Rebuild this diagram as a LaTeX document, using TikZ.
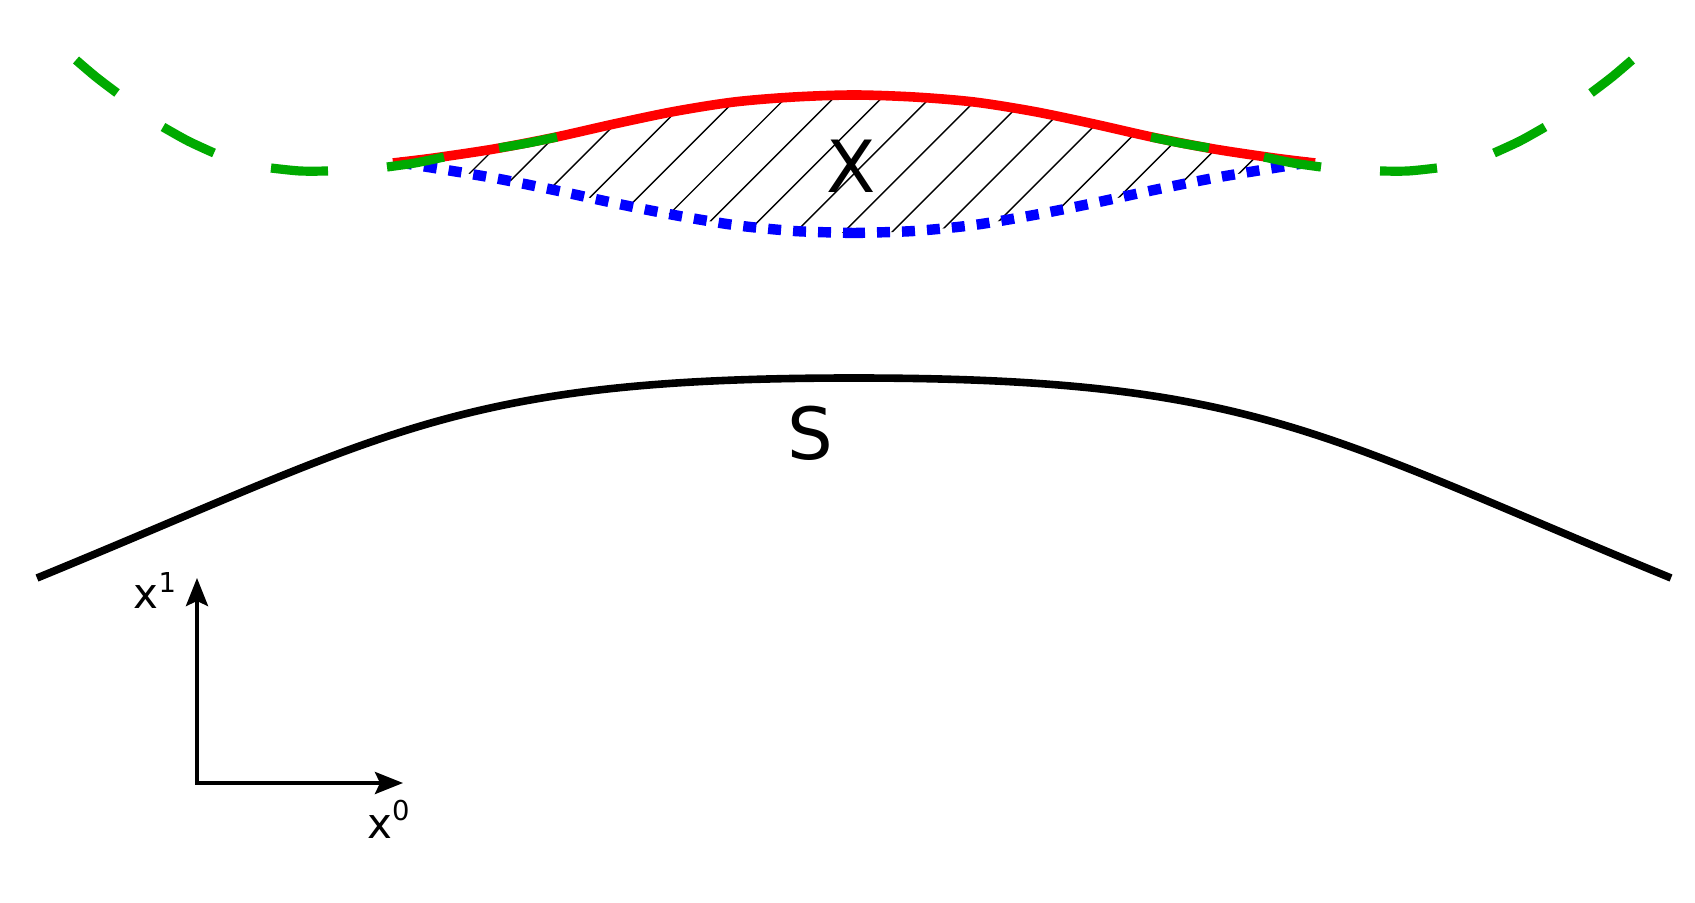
\documentclass[tikz,border=0pt]{standalone}
\usepackage{fontspec}
\newfontfamily\dv{DejaVu Sans}
\usetikzlibrary{arrows.meta}
\definecolor{gr}{RGB}{0,170,0}
\definecolor{rd}{RGB}{255,0,0}
\definecolor{bl}{RGB}{0,0,255}
\begin{document}
\begin{tikzpicture}[x=0.5pt,y=-0.5pt,
  greendash/.style={draw=gr,line width=4.6pt,line cap=butt},
  redline/.style={draw=rd,line width=4.8pt},
  blueline/.style={draw=bl,line width=5.2pt,dash pattern=on 6.5pt off 6pt,dash phase=1pt},
  sline/.style={draw=black,line width=3.8pt},
  hatch/.style={draw=black,line width=0.7pt},
  axis/.style={draw=black,line width=2pt,{Stealth[length=14pt,width=11pt,inset=2.5pt]}-{Stealth[length=14pt,width=11pt,inset=2.5pt]}},
  lbl/.style={inner sep=0pt}]
\useasboundingbox (0,0) rectangle (1695,903);

% hatching of region X
\begin{scope}
\clip plot[smooth] coordinates {(393,163) (434,158) (494,149) (554,137.5) (614,124) (674,111.5) (734,102) (794,97) (854,95) (914,97) (974,102) (1034,111.5) (1094,124) (1154,137.5) (1214,149) (1274,158) (1315,163)}
  -- plot[smooth] coordinates {(1312,162) (1274,168) (1214,178) (1154,190) (1094,203) (1034,215) (974,225) (914,231) (854,233) (794,231) (734,225) (674,215) (614,203) (554,190) (494,178) (434,168) (396,162)} -- cycle;
\foreach \k in {0,...,16}{
  \draw[hatch] ({643+48.1*\k-270},270) -- ({643+48.1*\k-60},60);
}
\end{scope}

% blue lower boundary (two halves from the middle)
\draw[blueline] plot[smooth] coordinates {(854,233) (794,231) (734,225) (674,215) (614,203) (554,190) (494,178) (434,168) (396,162)};
\draw[blueline] plot[smooth] coordinates {(854,233) (914,231) (974,225) (1034,215) (1094,203) (1154,190) (1214,178) (1274,168) (1312,162)};

% red upper boundary
\draw[redline] plot[smooth] coordinates {(393,163) (434,158) (494,149) (554,137.5) (614,124) (674,111.5) (734,102) (794,97) (854,95) (914,97) (974,102) (1034,111.5) (1094,124) (1154,137.5) (1214,149) (1274,158) (1315,163)};

% green dashed surface
\draw[greendash] plot[smooth] coordinates {(76,60) (96,77) (117,93)};
\draw[greendash] plot[smooth] coordinates {(163,127) (188,141) (214,153)};
\draw[greendash] plot[smooth] coordinates {(271,168) (300,171) (328,171)};
\draw[greendash] plot[smooth] coordinates {(387,167) (415,163) (444,157)};
\draw[greendash] plot[smooth] coordinates {(499,148) (528,143) (557,137)};
\draw[greendash] plot[smooth] coordinates {(1632,60) (1612,77) (1591,93)};
\draw[greendash] plot[smooth] coordinates {(1545,127) (1520,141) (1494,153)};
\draw[greendash] plot[smooth] coordinates {(1437,168) (1408,171) (1380,171)};
\draw[greendash] plot[smooth] coordinates {(1321,167) (1293,163) (1264,157)};
\draw[greendash] plot[smooth] coordinates {(1209,148) (1180,143) (1151,137)};

% surface S
\coordinate (SL) at (37,578);
\coordinate (ST) at (854,378);
\coordinate (SR) at (1671,578);
\draw[sline] (SL) .. controls (387,434.5) and (454,378) .. (ST)
                  .. controls (1254,378) and (1321,434.5) .. (SR);

% labels
\node[lbl,font=\dv\fontsize{36}{36}\selectfont] (X) at (851.5,166) {X};
\node[lbl,font=\dv\fontsize{36}{36}\selectfont] (S) at (810,433.5) {S};

% axes
\coordinate (O) at (197,783);
\coordinate (Ytip) at (197,578);
\coordinate (Xtip) at (403,783);
\draw[axis] (Ytip) -- (O) -- (Xtip);
\node[lbl,anchor=base,font=\dv\fontsize{21}{21}\selectfont] (x1) at (155,608) {x\raisebox{8pt}{\fontsize{13.7}{13.7}\selectfont 1}};
\node[lbl,anchor=base,font=\dv\fontsize{21}{21}\selectfont] (x0) at (388.5,838) {x\raisebox{9pt}{\fontsize{13.7}{13.7}\selectfont 0}};
\end{tikzpicture}
\end{document}
